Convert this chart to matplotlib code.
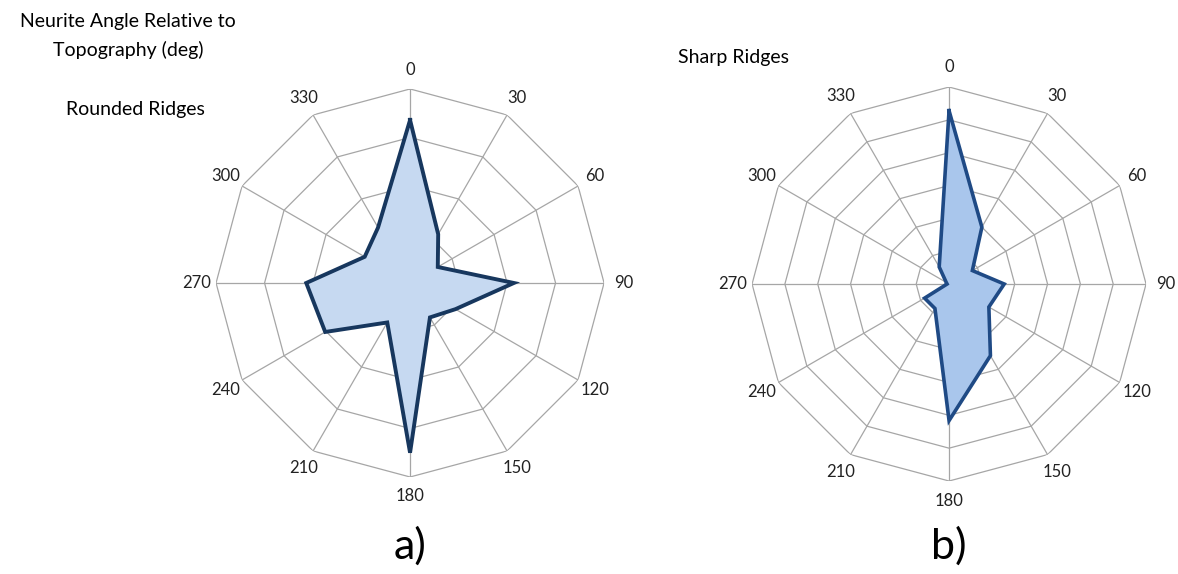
import numpy as np
import matplotlib.pyplot as plt

plt.rcParams['font.family'] = ['Lato', 'DejaVu Sans']

# neurite angle bins (deg) and percentage of neurites in each
angles = [0, 30, 60, 90, 120, 150, 180, 210, 240, 270, 300, 330]
rounded = [16.8, 5.8, 3.3, 10.7, 5.4, 4.1, 17.5, 4.7, 10.1, 10.7, 5.4, 6.6]
sharp = [26.4, 10.0, 4.1, 8.4, 7.0, 12.6, 20.8, 4.3, 4.3, 0.3, 0.5, 3.0]

rounded_rings = [5, 10, 15, 20]
sharp_rings = [5, 10, 15, 20, 25, 30]


def radar(ax, values, rings, fill, edge, lw):
    theta = np.radians(angles)
    tc = np.append(theta, theta[0])
    ax.set_theta_zero_location('N')
    ax.set_theta_direction(-1)
    ax.set_ylim(0, rings[-1])
    ax.grid(False)
    ax.spines['polar'].set_visible(False)
    ax.set_xticks([])
    ax.set_yticks([])
    ax.patch.set_alpha(0)

    # polygon gridlines and spokes
    for r in rings:
        ax.plot(tc, [r] * len(tc), color='#a6a6a6', lw=0.9, zorder=1)
    for t in theta:
        ax.plot([t, t], [0, rings[-1]], color='#a6a6a6', lw=0.9, zorder=1)

    v = np.append(values, values[0])
    ax.fill(tc, v, color=fill, zorder=2)
    ax.plot(tc, v, color=edge, lw=lw, zorder=3, solid_joinstyle='miter')

    for a, t in zip(angles, theta):
        ax.text(t, rings[-1] * 1.1, str(a), ha='center', va='center',
                fontsize=12, color='#222222')


fig = plt.figure(figsize=(11.78, 5.74), dpi=100)

ax1 = fig.add_axes([0.1834, 0.169, 0.3294, 0.676], projection='polar')
radar(ax1, rounded, rounded_rings, '#c6d9f1', '#17375e', 2.8)

ax2 = fig.add_axes([0.6384, 0.162, 0.3345, 0.6864], projection='polar')
radar(ax2, sharp, sharp_rings, '#a9c6ec', '#1f4a85', 2.6)

fig.text(128 / 1178, 1 - 36 / 574, 'Neurite Angle Relative to\nTopography (deg)',
         ha='center', va='center', fontsize=14, linespacing=1.75)
fig.text(135 / 1178, 1 - 110 / 574, 'Rounded Ridges', ha='center', va='center', fontsize=14)
fig.text(733 / 1178, 1 - 58 / 574, 'Sharp Ridges', ha='center', va='center', fontsize=14)
fig.text(410 / 1178, 1 - 546 / 574, 'a)', ha='center', va='center', fontsize=31)
fig.text(949 / 1178, 1 - 546 / 574, 'b)', ha='center', va='center', fontsize=31)

fig.savefig('out.png', dpi=100)
